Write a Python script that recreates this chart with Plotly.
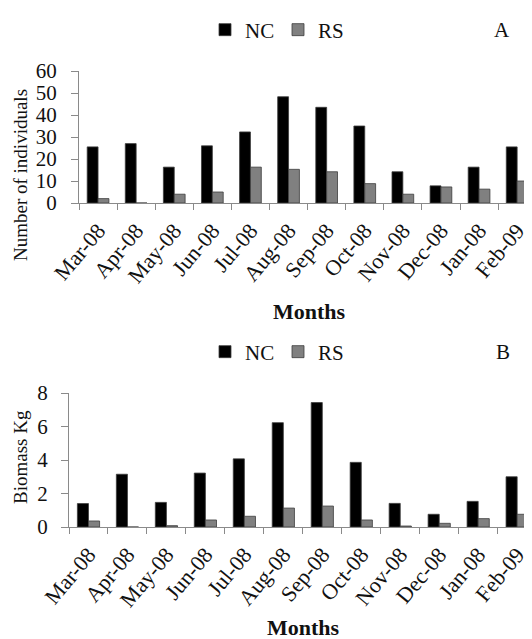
import plotly.graph_objects as go

months = ["Mar-08", "Apr-08", "May-08", "Jun-08", "Jul-08", "Aug-08",
          "Sep-08", "Oct-08", "Nov-08", "Dec-08", "Jan-08", "Feb-09"]
nc_individuals = [25.5, 27, 16.3, 26, 32.3, 48.3, 43.5, 35, 14.2, 7.8, 16.3, 25.5]
rs_individuals = [2, 0, 4, 5, 16.3, 15.3, 14.2, 8.8, 4, 7.3, 6.3, 10]
nc_biomass = [1.4, 3.15, 1.47, 3.22, 4.07, 6.23, 7.43, 3.86, 1.41, 0.76, 1.53, 3.0]
rs_biomass = [0.36, 0, 0.08, 0.42, 0.64, 1.13, 1.25, 0.42, 0.06, 0.22, 0.5, 0.76]
individual_ticks = [0, 10, 20, 30, 40, 50, 60]
biomass_ticks = [0, 2, 4, 6, 8]

# page is 532x639; the html body has an 8px margin, so the figure is sized to fill the rest
VIEW_W, VIEW_H = 532, 639
OFF = 8
W, H = VIEW_W - OFF, VIEW_H - OFF
FONT = "Liberation Serif"
NC_COLOR = "#000000"
RS_COLOR = "#808080"
EDGE = "#3c3c3c"
AXIS = "#8a8a8a"
TXT = "#111111"


def px_x(p):
    return (p - OFF) / W


def px_y(p):
    return 1 - (p - OFF) / H


fig = go.Figure()
fig.add_trace(go.Bar(x=months, y=nc_individuals, name="NC", marker=dict(color=NC_COLOR, line=dict(color=EDGE, width=0.8)),
                     xaxis="x", yaxis="y", legend="legend"))
fig.add_trace(go.Bar(x=months, y=rs_individuals, name="RS", marker=dict(color=RS_COLOR, line=dict(color=EDGE, width=0.8)),
                     xaxis="x", yaxis="y", legend="legend"))
fig.add_trace(go.Bar(x=months, y=nc_biomass, name="NC", marker=dict(color=NC_COLOR, line=dict(color=EDGE, width=0.8)),
                     xaxis="x2", yaxis="y2", legend="legend2"))
fig.add_trace(go.Bar(x=months, y=rs_biomass, name="RS", marker=dict(color=RS_COLOR, line=dict(color=EDGE, width=0.8)),
                     xaxis="x2", yaxis="y2", legend="legend2"))

xcommon = dict(type="category", showline=True, linecolor=AXIS, linewidth=1, ticks="outside", ticklen=6,
               tickcolor=AXIS, tickson="boundaries", tickangle=-50, showgrid=False, zeroline=False,
               automargin=False, ticklabelstandoff=5,
               tickfont=dict(family=FONT, size=22, color=TXT), fixedrange=True)
ycommon = dict(showline=True, linecolor=AXIS, linewidth=1, ticks="outside", ticklen=7, tickcolor=AXIS,
               showgrid=False, zeroline=False, tickfont=dict(family=FONT, size=21, color=TXT),
               automargin=False, fixedrange=True)

# categories ~38 px wide starting at the y axis; plots run off the right edge
top_range = [-0.5, -0.5 + (VIEW_W - 79) / 38.1]
bot_range = [-0.5, -0.5 + (VIEW_W - 69) / 38.97]

fig.update_layout(
    template="none",
    width=W, height=H, margin=dict(l=0, r=0, t=0, b=0, autoexpand=False),
    paper_bgcolor="white", plot_bgcolor="white",
    barmode="group", bargap=0.43, bargroupgap=0,
    xaxis=dict(xcommon, domain=[px_x(79), 1], range=top_range, anchor="y"),
    yaxis=dict(ycommon, domain=[px_y(203), px_y(71)], range=[0, 60], tickvals=individual_ticks,
               ticklabelstandoff=10, anchor="x"),
    xaxis2=dict(xcommon, domain=[px_x(69), 1], range=bot_range, anchor="y2"),
    yaxis2=dict(ycommon, domain=[px_y(527), px_y(393)], range=[0, 8], tickvals=biomass_ticks,
                ticklabelstandoff=9, anchor="x2"),
    legend=dict(orientation="h", x=px_x(205), y=px_y(30), xanchor="left", yanchor="middle",
                font=dict(family=FONT, size=21, color=TXT), bgcolor="rgba(0,0,0,0)", entrywidth=28,
                itemclick=False, itemdoubleclick=False),
    legend2=dict(orientation="h", x=px_x(205), y=px_y(352), xanchor="left", yanchor="middle",
                 font=dict(family=FONT, size=21, color=TXT), bgcolor="rgba(0,0,0,0)", entrywidth=28,
                 itemclick=False, itemdoubleclick=False),
    showlegend=True,
)

annos = [
    dict(text="A", x=px_x(502), y=px_y(30), size=21, angle=0),
    dict(text="B", x=px_x(503), y=px_y(352), size=21, angle=0),
    dict(text="<b>Months</b>", x=px_x(309), y=px_y(311), size=22, angle=0),
    dict(text="<b>Months</b>", x=px_x(303), y=px_y(627), size=22, angle=0),
    dict(text="Number of individuals", x=px_x(20), y=px_y(175), size=19, angle=-90),
    dict(text="Biomass Kg", x=px_x(20), y=px_y(457), size=19, angle=-90),
]
for a in annos:
    fig.add_annotation(text=a["text"], x=a["x"], y=a["y"], xref="paper", yref="paper",
                       xanchor="center", yanchor="middle", showarrow=False, textangle=a["angle"],
                       font=dict(family=FONT, size=a["size"], color=TXT))

fig.write_html("out.html", config={"displayModeBar": False})
